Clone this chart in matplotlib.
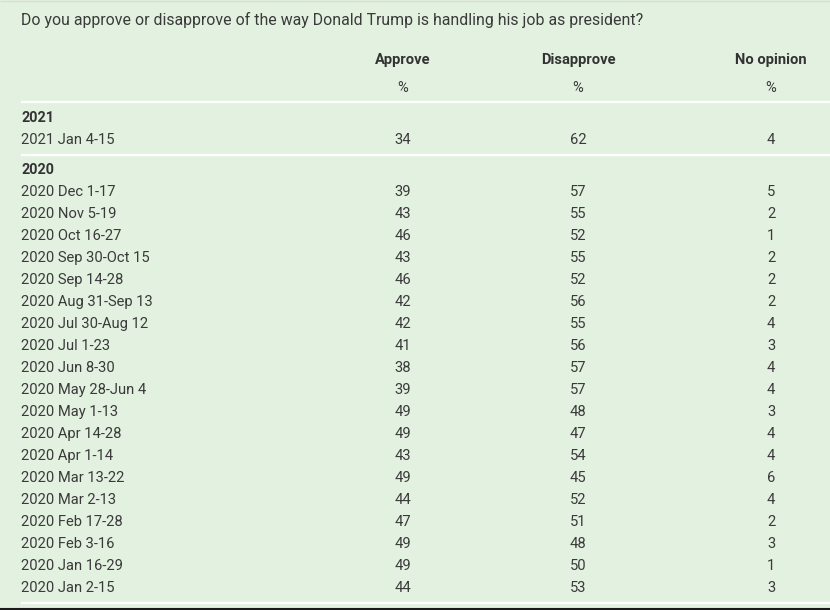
import matplotlib
matplotlib.use("Agg")
import matplotlib.pyplot as plt

TITLE = "Do you approve or disapprove of the way Donald Trump is handling his job as president?"
COLUMNS = ["Approve", "Disapprove", "No opinion"]

DATES_2021 = ["2021 Jan 4-15"]
APPROVE_2021 = [34]
DISAPPROVE_2021 = [62]
NO_OPINION_2021 = [4]

DATES_2020 = ["2020 Dec 1-17", "2020 Nov 5-19", "2020 Oct 16-27", "2020 Sep 30-Oct 15",
              "2020 Sep 14-28", "2020 Aug 31-Sep 13", "2020 Jul 30-Aug 12", "2020 Jul 1-23",
              "2020 Jun 8-30", "2020 May 28-Jun 4", "2020 May 1-13", "2020 Apr 14-28",
              "2020 Apr 1-14", "2020 Mar 13-22", "2020 Mar 2-13", "2020 Feb 17-28",
              "2020 Feb 3-16", "2020 Jan 16-29", "2020 Jan 2-15"]
APPROVE_2020 = [39, 43, 46, 43, 46, 42, 42, 41, 38, 39, 49, 49, 43, 49, 44, 47, 49, 49, 44]
DISAPPROVE_2020 = [57, 55, 52, 55, 52, 56, 55, 56, 57, 57, 48, 47, 54, 45, 52, 51, 48, 50, 53]
NO_OPINION_2020 = [5, 2, 1, 2, 2, 2, 4, 3, 4, 4, 3, 4, 4, 6, 4, 2, 3, 1, 3]

BG = "#e3f1e0"
TXT = "#3a3a3a"
FONT = ["Roboto", "DejaVu Sans"]

W, H = 830, 610
fig = plt.figure(figsize=(W / 100, H / 100), dpi=100, facecolor=BG)
ax = fig.add_axes([0, 0, 1, 1])
ax.set_xlim(0, W)
ax.set_ylim(H, 0)
ax.axis("off")

left = 21
col_x = [403, 578, 771]
dy = 1  # centre-alignment nudge

ax.hlines(0.5, 0, W, color="#d6dfd3", lw=1.0)
ax.text(left, 19 + dy, TITLE, fontsize=11.4, color=TXT, va="center", ha="left",
        family=FONT)
for x, name in zip(col_x, COLUMNS):
    ax.text(x, 59 + dy, name, fontsize=10.6, color="#333333", fontweight="bold",
            va="center", ha="center", family=FONT)
    ax.text(x, 87 + dy, "%", fontsize=10.6, color=TXT, va="center", ha="center",
            family=FONT)

ax.hlines(102, left, W, color="white", lw=1.6)

groups = [("2021", DATES_2021, APPROVE_2021, DISAPPROVE_2021, NO_OPINION_2021),
          ("2020", DATES_2020, APPROVE_2020, DISAPPROVE_2020, NO_OPINION_2020)]
y = 117
for year, dates, ap, dis, no in groups:
    ax.text(left, y + dy, year, fontsize=10.4, color="#333333", fontweight="bold",
            va="center", ha="left", family=FONT)
    y += 22
    for d, a, b, c in zip(dates, ap, dis, no):
        ax.text(left, y + dy, d, fontsize=10.6, color=TXT, va="center", ha="left",
                family=FONT)
        for x, v in zip(col_x, (a, b, c)):
            ax.text(x, y + dy, str(v), fontsize=10.6, color=TXT, va="center",
                    ha="center", family=FONT)
        y += 22
    ax.hlines(y - 6, left, W, color="white", lw=1.6)
    y += 8

ax.hlines(608.5, 0, W, color="#1a1a1a", lw=1.5)

fig.savefig("out.png", dpi=100, facecolor=BG)
